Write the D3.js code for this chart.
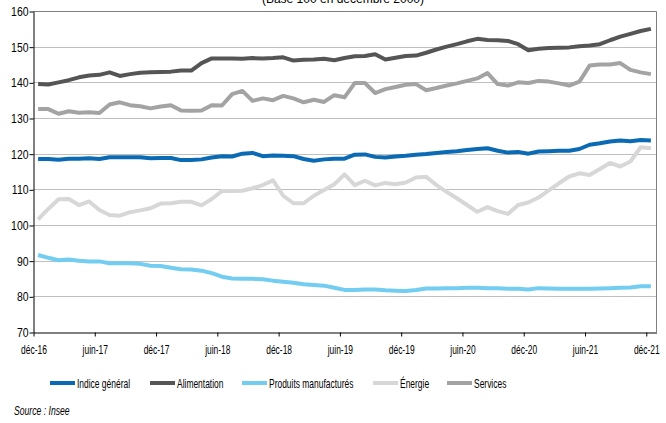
<!DOCTYPE html>
<html>
<head>
<meta charset="utf-8">
<script src="https://d3js.org/d3.v7.min.js"></script>
<style>
  body { margin: 0; background: #fff; }
  svg text { font-family: "Liberation Sans", Arial, sans-serif; fill: #000; }
  .grid line { stroke: #bfbfbf; stroke-width: 1; }
  .axis path, .axis line { stroke: #000; }
  .series { fill: none; stroke-width: 4; stroke-linejoin: round; stroke-linecap: butt; }
</style>
</head>
<body>
<svg id="chart"></svg>
<script>
var width = 666, height = 423;

// monthly indices, déc-16 .. déc-21 (61 points)
var indiceGeneral = [118.5,118.5,118.3,118.6,118.6,118.7,118.5,119.0,119.0,119.0,119.0,118.7,118.8,118.8,118.2,118.2,
  118.4,118.9,119.3,119.2,120.0,120.2,119.3,119.5,119.4,119.3,118.5,118.0,118.4,118.6,118.6,119.7,119.8,119.1,118.9,
  119.2,119.4,119.7,119.9,120.2,120.5,120.7,121.0,121.3,121.5,120.8,120.3,120.5,120.0,120.6,120.7,120.8,120.8,121.3,
  122.5,122.9,123.4,123.7,123.5,123.8,123.7];
var alimentation = [139.5,139.4,140.0,140.6,141.4,141.9,142.1,142.8,141.8,142.3,142.7,142.8,142.9,143.0,143.3,143.3,
  145.4,146.7,146.7,146.7,146.6,146.8,146.7,146.8,147.0,146.1,146.3,146.4,146.6,146.2,146.8,147.3,147.4,147.9,146.4,
  146.9,147.4,147.5,148.3,149.2,150.0,150.7,151.5,152.2,151.9,151.8,151.6,150.7,149.0,149.4,149.6,149.7,149.8,150.1,
  150.3,150.7,151.8,152.8,153.6,154.4,155.0];
var produitsManufactures = [91.6,90.8,90.1,90.3,90.0,89.8,89.8,89.3,89.3,89.3,89.1,88.6,88.5,88.0,87.6,87.5,
  87.2,86.5,85.5,85.0,84.9,84.9,84.8,84.4,84.1,83.8,83.4,83.2,83.0,82.4,81.8,81.8,81.9,81.9,81.7,81.6,81.5,81.8,
  82.2,82.2,82.3,82.3,82.4,82.4,82.3,82.3,82.1,82.1,81.9,82.3,82.2,82.1,82.1,82.1,82.1,82.2,82.3,82.4,82.5,82.8,82.8];
var energie = [101.6,104.5,107.2,107.3,105.6,106.6,104.2,102.8,102.6,103.6,104.1,104.7,106.0,106.1,106.5,106.5,
  105.5,107.3,109.5,109.5,109.6,110.3,111.2,112.5,108.2,106.1,106.1,108.2,109.8,111.4,114.2,111.2,112.4,111.1,111.8,
  111.4,111.9,113.3,113.5,111.2,109.3,107.5,105.6,103.7,105.0,103.9,103.1,105.6,106.3,107.7,109.7,111.7,113.6,114.5,
  114.0,115.7,117.4,116.4,117.8,121.8,121.5];
var services = [132.5,132.5,131.2,131.9,131.5,131.6,131.4,133.8,134.4,133.6,133.3,132.7,133.2,133.6,132.1,132.0,
  132.1,133.6,133.5,136.7,137.6,134.8,135.5,135.0,136.2,135.5,134.4,135.1,134.5,136.4,135.8,139.8,139.8,137.0,138.1,
  138.7,139.3,139.5,137.8,138.4,139.1,139.7,140.4,141.1,142.6,139.5,139.1,140.0,139.8,140.4,140.2,139.7,139.1,140.2,
  144.7,145.0,145.0,145.4,143.5,142.8,142.3];

var tickLabels = ["déc-16","juin-17","déc-17","juin-18","déc-18","juin-19","déc-19","juin-20","déc-20","juin-21","déc-21"];
var yTicks = [70,80,90,100,110,120,130,140,150,160];

var seriesNames = ["Indice général","Alimentation","Produits manufacturés","Énergie","Services"];
var seriesColors = ["#0a6ab4","#555555","#72cdf1","#d7d7d7","#a3a3a3"];
var seriesData = [indiceGeneral, alimentation, produitsManufactures, energie, services];

// plot area
var plotLeft = 33, plotRight = 656, plotTop = 11, plotBottom = 332;
var n = indiceGeneral.length;

var svg = d3.select("#chart").attr("width", width).attr("height", height);

var x = d3.scaleLinear().domain([0, n]).range([plotLeft, plotRight]);
var y = d3.scaleLinear().domain([70, 160]).range([plotBottom, plotTop]);

// title, cut off at the top edge
svg.append("text")
  .attr("x", 343).attr("y", 3)
  .attr("text-anchor", "middle")
  .attr("font-size", 12)
  .text("(Base 100 en décembre 2000)");

// grid lines
svg.append("g").attr("class", "grid")
  .selectAll("line")
  .data(yTicks.slice(1))
  .enter().append("line")
    .attr("x1", plotLeft).attr("x2", plotRight)
    .attr("y1", function(d) { return Math.round(y(d)) + 0.5; })
    .attr("y2", function(d) { return Math.round(y(d)) + 0.5; });

// plot area border (top/right)
svg.append("path")
  .attr("d", "M" + plotLeft + "," + (plotTop + 0.5) + "H" + (plotRight + 0.5) + "V" + plotBottom)
  .attr("fill", "none").attr("stroke", "#7f7f7f");

// lines
var line = d3.line()
  .x(function(d, i) { return x(i + 0.5); })
  .y(function(d) { return y(d); });

svg.append("g").selectAll("path")
  .data(seriesData)
  .enter().append("path")
    .attr("class", "series")
    .attr("stroke", function(d, i) { return seriesColors[i]; })
    .attr("d", line);

// axes
var yAxis = svg.append("g").attr("class", "axis")
  .attr("transform", "translate(" + (plotLeft + 0.5) + ",0.5)")
  .call(d3.axisLeft(y).tickValues(yTicks).tickSize(4).tickSizeOuter(0));
yAxis.attr("font-family", null).attr("font-size", null);
yAxis.selectAll("text")
  .attr("font-size", 12)
  .attr("x", -5 / 0.87)
  .attr("transform", "scale(0.87,1)");

var xAxis = svg.append("g").attr("class", "axis")
  .attr("transform", "translate(0.5," + (plotBottom + 0.5) + ")")
  .call(d3.axisBottom(x)
    .tickValues(d3.range(0, n, 6))
    .tickFormat(function(d) { return tickLabels[d / 6]; })
    .tickSize(4).tickSizeOuter(0));
xAxis.attr("font-family", null).attr("font-size", null);
xAxis.selectAll("text")
  .attr("font-size", 13)
  .attr("y", 12)
  .attr("transform", "scale(0.65,1)");

// legend
var legendX = [50, 150, 242, 373, 447];
var legend = svg.append("g").selectAll("g")
  .data(seriesNames)
  .enter().append("g")
    .attr("transform", function(d, i) { return "translate(" + legendX[i] + ",383)"; });
legend.append("line")
  .attr("x1", 0).attr("x2", 25).attr("y1", 0).attr("y2", 0)
  .attr("stroke-width", 4)
  .attr("stroke", function(d, i) { return seriesColors[i]; });
legend.append("text")
  .attr("transform", "translate(27,5) scale(0.65,1)")
  .attr("font-size", 13)
  .text(function(d) { return d; });

// source
svg.append("text")
  .attr("transform", "translate(14,415) scale(0.72,1)")
  .attr("font-size", 12)
  .attr("font-style", "italic")
  .text("Source : Insee");
</script>
</body>
</html>
